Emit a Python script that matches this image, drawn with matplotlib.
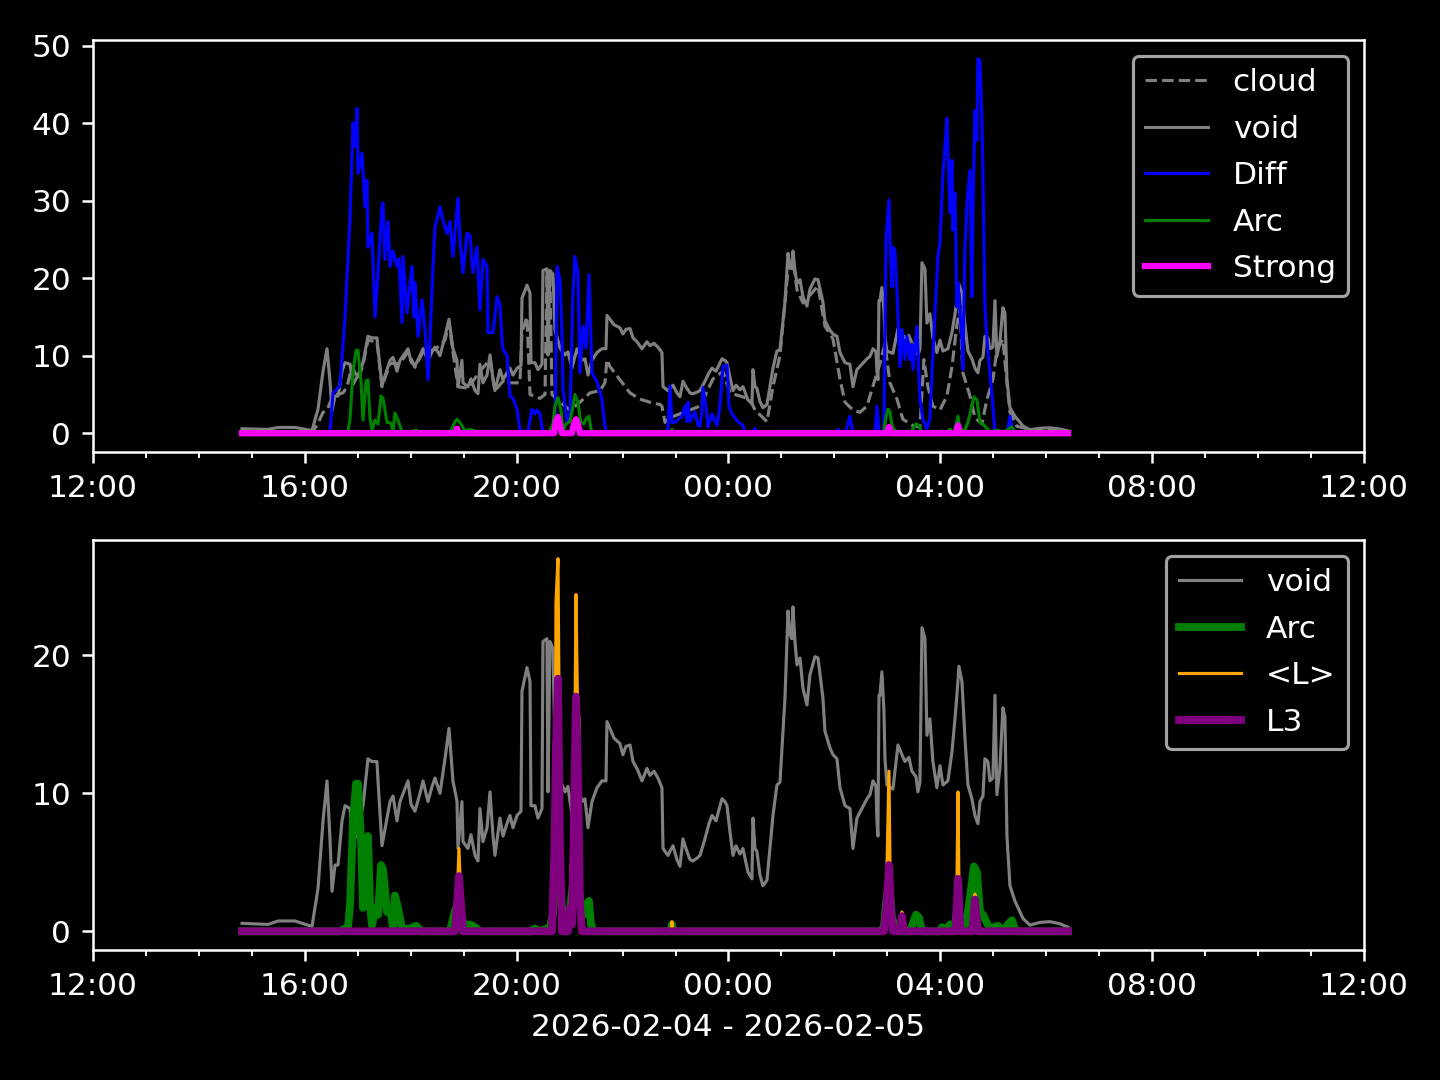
import matplotlib
matplotlib.use("Agg")
import matplotlib.pyplot as plt
import matplotlib.dates as mdates
from matplotlib.ticker import MultipleLocator
from datetime import datetime, timedelta

plt.style.use("dark_background")

# times are minutes after 2026-02-04 12:00
void_t = [168.8, 198.3, 209.6, 228.8, 248.1, 254.9, 260.6, 265.1, 268.5, 270.8, 274.2, 277.6, 282.1, 285.5,
          291.2, 294.6, 300.2, 305.9, 311.5, 316.1, 321.7, 322.9, 327.4, 333.1, 336.5, 339.9, 344.4, 347.8,
          356.9, 360.3, 364.8, 370.5, 373.9, 379.5, 384.1, 387.5, 393.1, 398.8, 403.3, 407.8, 412.4, 413.5,
          418.0, 419.2, 424.8, 428.2, 432.8, 436.2, 438.4, 441.8, 446.4, 449.8, 453.2, 455.4, 461.1, 464.5,
          469.0, 472.4, 475.8, 480.4, 484.9, 486.0, 491.7, 495.1, 496.2, 500.7, 504.1, 508.7, 509.8, 514.3,
          515.5, 517.7, 521.1, 523.4, 529.1, 534.7, 538.1, 542.6, 548.3, 554.0, 557.4, 560.8, 565.3, 571.0,
          576.6, 581.2, 582.3, 585.7, 590.2, 593.6, 597.0, 600.4, 603.8, 608.4, 611.8, 616.3, 622.0, 627.6,
          631.0, 635.6, 640.1, 644.6, 645.8, 651.4, 653.7, 657.1, 661.6, 665.0, 668.4, 671.8, 676.3, 679.7,
          684.3, 687.7, 693.3, 697.9, 701.3, 705.8, 709.2, 712.6, 716.0, 718.3, 721.7, 725.1, 728.5, 733.0,
          736.4, 742.0, 746.6, 747.7, 750.0, 752.2, 755.6, 759.0, 763.6, 770.4, 774.9, 778.3, 784.0, 787.4,
          789.6, 791.9, 793.0, 795.3, 797.6, 801.0, 804.4, 808.9, 812.3, 818.0, 821.4, 827.0, 829.3, 834.9,
          838.3, 842.9, 846.3, 852.0, 857.6, 861.0, 865.5, 871.2, 876.9, 880.3, 883.7, 887.1, 888.2, 889.3,
          890.5, 891.6, 893.8, 896.1, 897.3, 899.5, 906.3, 912.0, 916.5, 919.9, 924.4, 927.8, 932.4, 934.6,
          936.9, 939.2, 942.6, 944.8, 948.2, 951.6, 956.1, 959.6, 963.0, 968.6, 973.2, 976.6, 978.8, 981.1,
          984.5, 987.9, 991.3, 995.8, 999.2, 1002.6, 1004.9, 1008.3, 1010.5, 1013.9, 1016.2, 1019.6, 1021.9,
          1024.1, 1027.5, 1030.9, 1033.2, 1035.5, 1038.9, 1044.5, 1053.6, 1061.5, 1072.9, 1084.2, 1095.5,
          1104.6]
void_v = [0.58, 0.5, 0.75, 0.75, 0.35, 3.1, 8.0, 10.9, 6.7, 2.9, 4.8, 4.8, 8.0, 9.1,
          8.9, 6.3, 7.5, 9.1, 12.5, 12.3, 12.3, 10.9, 6.2, 8.2, 9.4, 9.8, 8.0, 9.4,
          10.9, 9.2, 8.7, 10.0, 10.9, 9.4, 10.5, 11.1, 10.0, 12.5, 14.7, 10.9, 9.4, 6.0,
          9.4, 6.5, 6.0, 7.0, 5.5, 5.1, 8.9, 6.5, 7.5, 10.1, 6.9, 5.5, 8.2, 6.9,
          7.8, 8.4, 7.5, 8.4, 8.7, 17.4, 19.1, 18.1, 9.1, 9.1, 8.2, 8.9, 21.0, 21.2,
          10.1, 21.0, 20.5, 13.3, 11.0, 10.1, 10.5, 8.4, 10.9, 9.4, 9.6, 7.5, 9.4, 10.4,
          10.9, 10.9, 15.2, 14.7, 14.0, 13.8, 13.6, 12.8, 13.4, 13.5, 12.3, 11.8, 10.9, 11.8,
          11.3, 11.6, 11.1, 10.4, 6.0, 5.5, 5.8, 6.2, 5.2, 4.7, 6.7, 6.0, 5.2, 5.1,
          5.3, 5.5, 6.7, 7.8, 8.4, 8.0, 8.8, 9.6, 9.4, 9.1, 7.2, 5.5, 6.2, 5.6,
          6.0, 4.3, 3.8, 8.2, 6.0, 5.8, 4.1, 3.3, 3.7, 8.4, 10.6, 10.8, 16.9, 23.2,
          21.5, 21.2, 23.5, 21.0, 19.3, 19.8, 17.6, 16.4, 18.6, 19.9, 19.8, 16.9, 14.5, 13.3,
          12.8, 12.5, 10.4, 9.1, 8.9, 6.0, 8.2, 8.9, 9.6, 9.9, 10.9, 10.5, 8.0, 6.9,
          17.1, 17.1, 18.8, 16.0, 12.5, 10.6, 10.3, 13.5, 12.8, 12.3, 12.6, 11.6, 11.2, 10.1,
          10.8, 22.0, 21.2, 14.2, 15.4, 12.3, 10.4, 12.0, 10.6, 10.9, 13.0, 15.4, 17.1, 19.2,
          18.1, 14.0, 10.6, 9.6, 8.4, 7.8, 9.4, 9.8, 12.5, 12.3, 10.9, 11.1, 17.1,
          9.9, 11.8, 16.2, 15.5, 6.9, 3.3, 2.2, 0.94, 0.45, 0.65, 0.7, 0.55,
          0.3]

cloud_t = [168.8, 234.5, 248.1, 253.8, 260.6, 265.1, 271.9, 276.4, 283.2, 287.8, 293.4, 300.2, 305.9,
           311.5, 321.7, 327.4, 336.5, 347.8, 356.9, 364.8, 373.9, 387.5, 398.8, 403.3, 407.8, 413.5,
           424.8, 438.4, 449.8, 455.4, 466.8, 472.4, 483.7, 486.0, 491.7, 495.1, 506.4, 512.1, 514.3,
           517.7, 520.0, 529.1, 540.4, 551.7, 563.0, 574.4, 580.0, 582.3, 585.7, 597.0, 608.4, 619.7,
           631.0, 642.4, 644.6, 648.0, 653.7, 665.0, 676.3, 687.7, 693.3, 702.4, 713.7, 721.7, 733.0,
           744.3, 750.0, 763.6, 770.4, 778.3, 787.4, 793.0, 797.6, 804.4, 812.3, 821.4, 829.3, 838.3,
           846.3, 852.0, 861.0, 868.9, 876.9, 883.7, 891.6, 897.3, 902.9, 910.9, 917.6, 929.0, 936.9,
           941.4, 945.9, 951.6, 959.6, 967.5, 973.2, 978.8, 982.2, 985.6, 993.6, 999.2, 1007.2, 1012.8,
           1019.6, 1024.1, 1030.9, 1035.5, 1038.9, 1046.8, 1061.5, 1104.6]
cloud_v = [0.2, 0.2, 0.2, 1.0, 2.7, 3.0, 4.8, 5.0, 5.2, 6.0, 8.6, 7.0, 8.8,
           12.0, 11.8, 6.0, 9.0, 9.0, 10.5, 8.5, 10.5, 10.8, 12.0, 14.2, 10.5, 6.0,
           5.8, 8.0, 9.5, 5.5, 7.0, 6.5, 6.5, 13.0, 15.0, 5.0, 4.5, 5.0, 20.5,
           20.5, 5.0, 4.0, 3.0, 4.0, 5.2, 5.5, 6.5, 9.5, 8.6, 6.9, 5.2, 4.4,
           4.0, 3.7, 3.5, 1.4, 2.0, 2.5, 3.0, 3.5, 4.8, 7.0, 8.0, 5.2, 4.8,
           4.4, 3.0, 1.5, 6.0, 10.0, 21.0, 22.5, 18.5, 16.8, 17.8, 19.0, 13.8, 12.2,
           7.0, 4.0, 3.0, 2.7, 3.5, 6.1, 9.0, 11.5, 6.5, 4.4, 1.8, 1.0, 0.8,
           9.5, 6.0, 3.5, 3.0, 4.8, 8.6, 14.0, 16.0, 7.8, 4.8, 2.0, 1.2, 4.4,
           6.9, 10.8, 12.1, 6.5, 2.7, 0.9, 0.5, 0.3]

diff_t = [168.8, 266.2, 268.5, 271.9, 279.8, 285.5, 288.9, 291.2, 294.6, 296.8, 299.1, 300.2, 304.8,
          305.9, 308.1, 310.4, 311.5, 316.1, 319.5, 322.9, 327.4, 328.5, 330.8, 334.2, 336.5, 339.9,
          344.4, 346.7, 350.1, 351.2, 355.7, 361.4, 363.7, 364.8, 368.2, 372.7, 376.1, 379.5, 381.8,
          385.2, 387.5, 393.1, 396.5, 401.0, 404.4, 407.8, 413.5, 415.8, 419.2, 423.7, 427.1, 430.5,
          435.0, 438.4, 441.8, 446.4, 447.5, 453.2, 457.7, 461.1, 463.4, 464.5, 469.0, 472.4, 475.8,
          480.4, 483.7, 492.8, 497.3, 500.7, 503.0, 506.4, 509.8, 523.4, 525.7, 529.1, 531.3, 532.5,
          537.0, 540.4, 543.8, 546.0, 549.4, 551.7, 555.1, 558.5, 561.9, 565.3, 571.0, 576.6, 580.0,
          582.3, 648.0, 651.4, 653.7, 655.9, 659.3, 667.3, 670.7, 672.9, 674.1, 676.3, 682.0, 685.4,
          687.7, 689.9, 691.1, 695.6, 696.7, 701.3, 706.9, 710.3, 713.7, 718.3, 720.6, 723.9, 730.7,
          736.4, 738.7, 746.6, 750.0, 753.4, 840.6, 844.0, 847.4, 853.1, 857.6, 861.0, 885.9, 888.2,
          890.5, 896.1, 898.4, 901.8, 902.9, 905.2, 906.3, 908.6, 910.9, 914.3, 916.5, 919.9, 922.2,
          925.6, 927.8, 929.0, 931.2, 933.5, 936.9, 940.3, 944.8, 948.2, 953.9, 957.3, 959.6, 963.0,
          966.4, 967.5, 970.9, 973.2, 974.3, 976.6, 978.8, 980.0, 984.5, 985.6, 987.9, 990.2, 993.6,
          995.8, 997.0, 999.2, 1001.5, 1002.6, 1004.9, 1007.2, 1008.3, 1010.5, 1012.8, 1016.2, 1019.6,
          1021.9, 1035.5, 1038.9, 1042.3, 1104.6]
diff_v = [0, 0, 0.2, 5.2, 6.1, 15, 22.8, 27.9, 40, 37, 41.9, 33.5, 36.1,
          34, 29.2, 32.6, 24, 25.8, 15, 20.7, 29.2, 29.7, 22.4, 27.3, 21.5, 23.5,
          21.5, 22.5, 14.3, 22.8, 15.5, 21.5, 15, 19.4, 12.5, 17.2, 13.5, 6.9, 12.1,
          21.5, 26.6, 29.2, 27.5, 25.8, 27.3, 22.8, 30.3, 24.9, 20.7, 25.8, 25.5, 20.7,
          24.0, 15.9, 22.4, 21.5, 13.0, 13.0, 17.6, 16.5, 12.1, 10.8, 10.0, 4.8, 4.5,
          3.1, 0.3, 0.2, 3.1, 2.5, 3.0, 2.5, 0, 0, 21.5, 19.8, 13.0, 5.7,
          1.4, 2.5, 18.1, 22.8, 20.7, 7.8, 13.8, 11, 20.4, 7.8, 6.6, 4.4, 0.9,
          0, 0, 0.5, 6.1, 1.4, 1.4, 2.2, 3.5, 1.5, 4.0, 1.5, 2.8, 1.0,
          0.9, 2.8, 5.9, 2.5, 0.8, 2.5, 1.0, 3.5, 8.6, 8.8, 3.5, 2.5, 1.5,
          1.0, 0, 0, 0.6, 0, 0, 0.5, 0, 0.3, 2.2, 0, 0, 3.5,
          0.2, 0.3, 24.9, 30.1, 25, 18.9, 24.0, 23.5, 18.1, 8.6, 13.4, 9.5, 12.5,
          9.5, 11.5, 8.2, 11.0, 13.8, 4.4, 1.8, 0.5, 2.0, 15.5, 22.8, 24.5, 33.5,
          38.7, 40.6, 28.4, 35.2, 26.2, 31.0, 16.3, 19.4, 12.1, 8.2, 24.0, 29.7, 33.9,
          17.6, 29.2, 41.6, 37.8, 48.3, 48.0, 40.0, 33.5, 16.3, 12.1, 7.8, 3.5,
          0, 0, 2.2, 0, 0]

arc_t = [168.8, 279.8, 285.5, 288.9, 291.2, 294.6, 298.0, 300.2, 303.6, 305.9, 309.3, 311.5, 313.8,
         316.1, 319.5, 322.9, 326.3, 328.5, 333.1, 337.6, 339.9, 342.1, 345.5, 350.1, 359.1, 365.9,
         372.7, 404.4, 406.7, 410.1, 412.4, 416.9, 421.4, 427.1, 432.8, 438.4, 495.1, 500.7, 506.4,
         517.7, 521.1, 523.4, 526.8, 530.2, 532.5, 535.9, 540.4, 543.8, 546.0, 549.4, 552.5, 555.9,
         559.6, 561.9, 564.2, 567.6, 653.7, 655.9, 658.2, 891.6, 896.1, 898.4, 900.6, 902.9, 905.2,
         908.6, 914.3, 925.6, 929.0, 932.4, 935.8, 939.2, 959.6, 961.8, 965.2, 970.9, 975.4, 977.7,
         980.0, 982.2, 987.9, 991.3, 994.7, 998.1, 1001.5, 1004.9, 1008.3, 1012.8, 1016.2, 1025.3,
         1030.9, 1037.8, 1041.1, 1045.6, 1104.6]
arc_v = [0, 0, 0.2, 0.3, 1.9, 8.0, 10.7, 10.7, 6.7, 1.7, 6.7, 6.9, 2.0,
         0.4, 1.7, 1.2, 4.8, 4.5, 1.4, 1.3, 0.2, 2.6, 1.7, 0.2, 0.2, 0.4,
         0, 0, 0.6, 1.5, 1.8, 1.2, 0.3, 0.5, 0.3, 0, 0, 0.2, 0,
         0.3, 1.2, 3.5, 4.6, 3.0, 0.3, 1.2, 1.5, 3.5, 5.0, 4.0, 1.5, 1.2,
         2.0, 2.2, 0.5, 0, 0, 0.5, 0, 0, 0.3, 2.0, 3.1, 2.8, 1.0,
         0.3, 0, 0, 0.6, 1.2, 1.0, 0, 0, 0.3, 0, 0.5, 0, 1.0,
         2.2, 0.5, 0.4, 1.4, 3.0, 4.7, 4.3, 1.4, 1.2, 0.6, 0.2, 0.4,
         0, 0.6, 0.8, 0, 0]

strong_t = [168.8, 410.1, 412.4, 414.6, 522.3, 524.5, 526.8, 529.1, 531.3, 542.6, 544.9, 547.2, 549.4,
            551.7, 899.5, 901.8, 904.1, 977.7, 980.0, 982.2, 1104.6]
strong_v = [0, 0, 0.6, 0, 0, 1.5, 2.1, 1.0, 0, 0, 1.2, 1.8, 1.2,
            0, 0, 0.8, 0, 0, 1.0, 0, 0]

lavg_t = [168.8, 411.2, 414.6, 418.0, 521.1, 524.0, 524.5, 526.8, 528.5, 530.2, 540.4, 541.5, 543.2,
          545.4, 547.2, 548.9, 550.6, 552.3, 654.8, 655.9, 657.1, 897.3, 899.0, 901.8, 903.5, 905.2,
          914.8, 916.5, 918.2, 978.2, 980.0, 981.7, 997.6, 999.2, 1000.9, 1104.6]
lavg_v = [0, 0, 6.0, 0, 0, 10, 23.8, 27.0, 13, 0, 0, 4.9, 0.5,
          10, 24.4, 16.5, 15.4, 0, 0, 0.7, 0, 0, 2.9, 11.6, 2.0, 0,
          0, 1.4, 0, 0, 10.1, 0, 0, 2.7, 0, 0]

l3_t = [168.8, 410.1, 414.6, 419.2, 520.0, 522.8, 524.5, 526.8, 529.1, 531.3, 538.1, 540.4, 542.6,
        544.9, 547.2, 549.4, 551.7, 554.0, 896.1, 899.0, 901.8, 904.6, 906.3, 913.7, 916.5, 918.8,
        977.1, 980.0, 982.9, 996.4, 999.2, 1002.7, 1104.6]
l3_v = [0, 0, 4.0, 0, 0, 6, 13.3, 18.3, 6, 0, 0, 1.7, 0.5,
        8, 17.0, 11.6, 2, 0, 0, 1.7, 4.8, 1.0, 0, 0, 1.1, 0,
        0, 3.8, 0, 0, 2.3, 0, 0]

base = datetime(2026, 2, 4, 12, 0)


def tt(mins):
    return [base + timedelta(minutes=m) for m in mins]


fig = plt.figure(figsize=(6.4, 4.8), dpi=225)
ax1 = fig.add_axes([0.0646, 0.5815, 0.8826, 0.3815])
ax2 = fig.add_axes([0.0646, 0.1204, 0.8826, 0.3796])

ax1.plot(tt(cloud_t), cloud_v, color="gray", lw=1.0, ls="--", label="cloud")
ax1.plot(tt(void_t), void_v, color="gray", lw=1.0, label="void")
ax1.plot(tt(diff_t), diff_v, color="blue", lw=1.0, label="Diff")
ax1.plot(tt(arc_t), arc_v, color="green", lw=1.0, label="Arc")
ax1.plot(tt(strong_t), strong_v, color="magenta", lw=2.0, label="Strong")

ax2.plot(tt(void_t), void_v, color="gray", lw=1.0, label="void")
ax2.plot(tt(arc_t), arc_v, color="green", lw=2.5, label="Arc")
ax2.plot(tt(lavg_t), lavg_v, color="orange", lw=1.0, label="<L>")
ax2.plot(tt(l3_t), l3_v, color="purple", lw=2.5, label="L3")
ax2.yaxis.set_major_locator(MultipleLocator(10))

for ax in (ax1, ax2):
    ax.set_xlim(base, base + timedelta(hours=24))
    ax.xaxis.set_major_locator(mdates.HourLocator(byhour=range(0, 24, 4)))
    ax.xaxis.set_minor_locator(mdates.HourLocator())
    ax.xaxis.set_major_formatter(mdates.DateFormatter("%H:%M"))
    ax.legend(loc="upper right", labelspacing=0.56)

ax2.set_xlabel("2026-02-04 - 2026-02-05")

fig.savefig("out.png", dpi=225)
